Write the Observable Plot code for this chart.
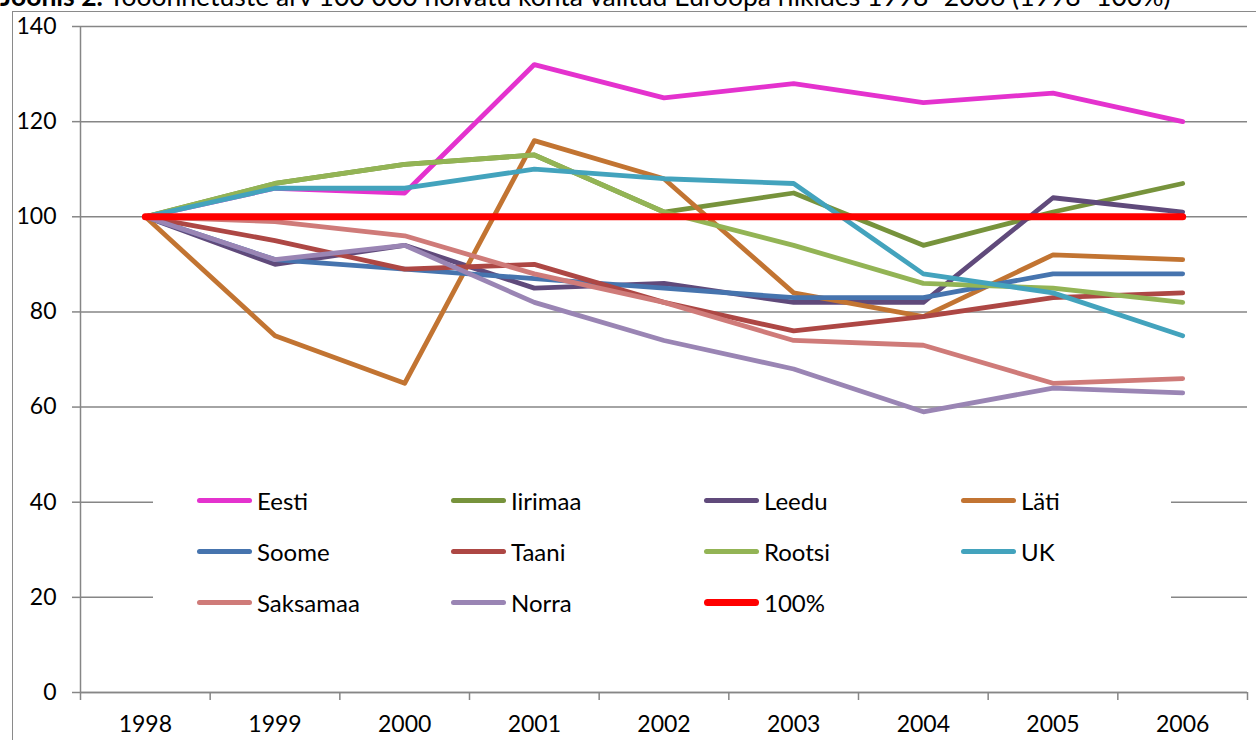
<!DOCTYPE html>
<html>
<head>
<meta charset="utf-8">
<script src="https://cdn.jsdelivr.net/npm/d3@7"></script>
<script src="https://cdn.jsdelivr.net/npm/@observablehq/plot@0.6"></script>
<style>
  html, body { margin: 0; padding: 0; background: #fff; }
  body { width: 1256px; height: 740px; position: relative; overflow: hidden; font-family: Lato, "Liberation Sans", sans-serif; }
  #title { position: absolute; left: 0; top: -17px; font-size: 26.5px; line-height: 26.5px; white-space: nowrap; color: #000; }
  #frame { position: absolute; left: 12px; top: 11px; width: 1260px; height: 740px; border: 1.5px solid #8a8a8a; box-sizing: border-box; pointer-events: none; }
  #chart { position: absolute; left: 0; top: 0; }
  #legend { position: absolute; left: 153px; top: 476px; width: 1018px; height: 150px; background: #fff;
            display: grid; grid-template-columns: 254px 253px 257px 254px; grid-auto-rows: 51px; box-sizing: border-box; }
  .item { display: flex; align-items: center; padding-left: 44px; font-size: 24px; color: #000; height: 48px; }
  .sw { display: inline-block; width: 55px; height: 5px; border-radius: 3px; margin-right: 5px; }
</style>
</head>
<body>
<div id="title"><b>Joonis 2.</b> Tööõnnetuste arv 100 000 hõivatu kohta valitud Euroopa riikides 1998–2006 (1998=100%)</div>
<div id="chart"></div>
<div id="frame"></div>
<div id="legend"></div>
<script>
const years = [1998, 1999, 2000, 2001, 2002, 2003, 2004, 2005, 2006];
const yTicks = [0, 20, 40, 60, 80, 100, 120, 140];

const seriesNames = ["Eesti", "Iirimaa", "Leedu", "Läti", "Soome", "Taani", "Rootsi", "UK", "Saksamaa", "Norra", "100%"];
const seriesColors = ["#E432CE", "#77933C", "#604A7B", "#C27432", "#4674AE", "#AD4744", "#93B455", "#43A3BD", "#CF7B79", "#9A85B4", "#FF0000"];

const eesti    = [100, 106, 105, 132, 125, 128, 124, 126, 120];
const iirimaa  = [100, 107, 111, 113, 101, 105, 94, 101, 107];
const leedu    = [100, 90, 94, 85, 86, 82, 82, 104, 101];
const lati     = [100, 75, 65, 116, 108, 84, 79, 92, 91];
const soome    = [100, 91, 89, 87, 85, 83, 83, 88, 88];
const taani    = [100, 95, 89, 90, 82, 76, 79, 83, 84];
const rootsi   = [100, 107, 111, 113, 101, 94, 86, 85, 82];
const uk       = [100, 106, 106, 110, 108, 107, 88, 84, 75];
const saksamaa = [100, 99, 96, 88, 82, 74, 73, 65, 66];
const norra    = [100, 91, 94, 82, 74, 68, 59, 64, 63];
const sada     = [100, 100, 100, 100, 100, 100, 100, 100, 100];

const seriesValues = [eesti, iirimaa, leedu, lati, soome, taani, rootsi, uk, saksamaa, norra, sada];

const data = seriesNames.flatMap((name, i) =>
  years.map((year, j) => ({series: name, year, value: seriesValues[i][j]})));

// category boundaries for the x tick marks
const boundaries = years.map(y => y - 0.5).concat([years[years.length - 1] + 0.5]);

const gridColor = "#868686";

const chart = Plot.plot({
  width: 1256,
  height: 740,
  marginLeft: 80,
  marginRight: 9,
  marginTop: 26,
  marginBottom: 48,
  x: {domain: [boundaries[0], boundaries[boundaries.length - 1]]},
  y: {domain: [0, 140]},
  style: {fontFamily: "Lato, 'Liberation Sans', sans-serif", fontSize: "23px", color: "#000", background: "transparent"},
  marks: [
    Plot.gridY(yTicks, {stroke: gridColor, strokeOpacity: 1, strokeWidth: 1.5}),
    Plot.axisY(yTicks, {anchor: "left", tickSize: 8, tickPadding: 16, stroke: gridColor, strokeWidth: 1.5, tickFormat: "d", label: null, fill: "#000"}),
    Plot.axisX(boundaries, {anchor: "bottom", tickSize: 8, stroke: gridColor, strokeWidth: 1.5, tickFormat: () => "", label: null}),
    Plot.axisX(years, {anchor: "bottom", tickSize: 0, tickPadding: 23, tickFormat: "d", label: null, fill: "#000"}),
    Plot.ruleX([boundaries[0]], {stroke: gridColor, strokeWidth: 1.5}),
    Plot.ruleY([0], {stroke: gridColor, strokeWidth: 1.5}),
    ...seriesNames.map((name, i) =>
      Plot.line(data.filter(d => d.series === name), {
        x: "year", y: "value",
        stroke: seriesColors[i],
        strokeWidth: name === "100%" ? 7 : 4.8,
        strokeLinejoin: "round",
        strokeLinecap: "round"
      }))
  ]
});
document.getElementById("chart").appendChild(chart);

// legend (row-major, 4 columns)
const legend = document.getElementById("legend");
seriesNames.forEach((name, i) => {
  const item = document.createElement("div");
  item.className = "item";
  const sw = document.createElement("span");
  sw.className = "sw";
  sw.style.background = seriesColors[i];
  if (name === "100%") { sw.style.height = "7px"; sw.style.borderRadius = "4px"; }
  const t = document.createElement("span");
  t.textContent = name;
  item.appendChild(sw);
  item.appendChild(t);
  legend.appendChild(item);
});
</script>
</body>
</html>
